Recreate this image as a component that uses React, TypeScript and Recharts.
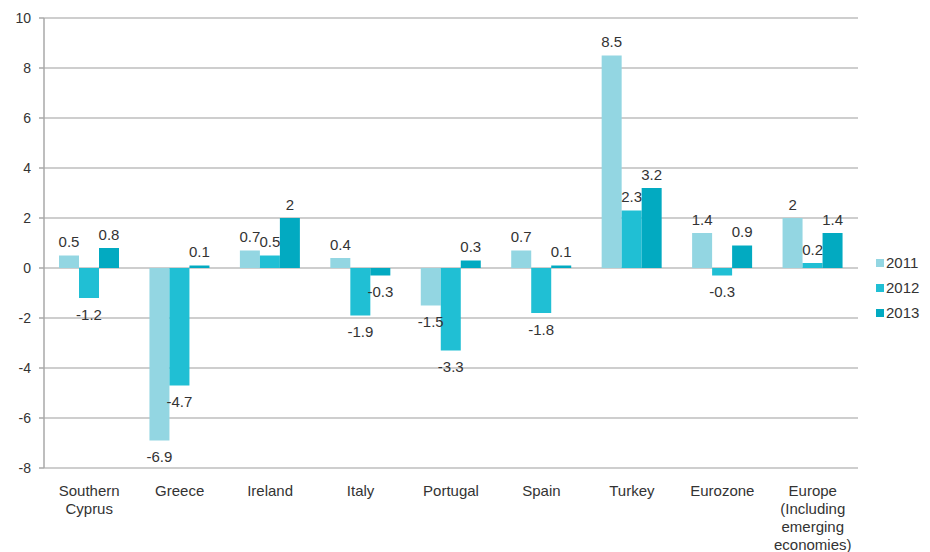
import { BarChart, Bar, XAxis, YAxis, CartesianGrid, Legend, LabelList } from 'recharts';

const categories = [
  'Southern Cyprus',
  'Greece',
  'Ireland',
  'Italy',
  'Portugal',
  'Spain',
  'Turkey',
  'Eurozone',
  'Europe (Including emerging economies)',
];

// how each category label wraps under the axis
const categoryLines: string[][] = [
  ['Southern', 'Cyprus'],
  ['Greece'],
  ['Ireland'],
  ['Italy'],
  ['Portugal'],
  ['Spain'],
  ['Turkey'],
  ['Eurozone'],
  ['Europe', '(Including', 'emerging', 'economies)'],
];

const values2011 = [0.5, -6.9, 0.7, 0.4, -1.5, 0.7, 8.5, 1.4, 2];
const values2012 = [-1.2, -4.7, 0.5, -1.9, -3.3, -1.8, 2.3, -0.3, 0.2];
const values2013 = [0.8, 0.1, 2, -0.3, 0.3, 0.1, 3.2, 0.9, 1.4];

const yTicks = [-8, -6, -4, -2, 0, 2, 4, 6, 8, 10];

const series = [
  { key: 'y2011', name: '2011', color: '#93D6E2' },
  { key: 'y2012', name: '2012', color: '#20BFD4' },
  { key: 'y2013', name: '2013', color: '#02AAC1' },
];

const data = categories.map((name, i) => ({
  name,
  y2011: values2011[i],
  y2012: values2012[i],
  y2013: values2013[i],
}));

const FONT = '"Liberation Sans", Arial, sans-serif';

function ValueLabel(props: any) {
  const { x, y, width, height, value } = props;
  const top = Math.min(y, y + height);
  const bottom = Math.max(y, y + height);
  const cx = x + width / 2;
  const ty = value >= 0 ? top - 14 : bottom + 16;
  return (
    <text x={cx} y={ty} textAnchor="middle" dominantBaseline="central" fill="#333" fontSize={15} fontFamily={FONT}>
      {value}
    </text>
  );
}

function CategoryTick(props: any) {
  const { x, y, payload } = props;
  const lines = categoryLines[payload.index] ?? [payload.value];
  return (
    <g>
      {lines.map((line, i) => (
        <text
          key={i}
          x={x}
          y={y + 14 + i * 18}
          textAnchor="middle"
          dominantBaseline="central"
          fill="#333"
          fontSize={15}
          fontFamily={FONT}
        >
          {line}
        </text>
      ))}
    </g>
  );
}

function renderLegend() {
  return (
    <div style={{ fontFamily: FONT, fontSize: 15, color: '#333' }}>
      {series.map((s) => (
        <div key={s.key} style={{ display: 'flex', alignItems: 'center', height: 25 }}>
          <span style={{ width: 8, height: 8, background: s.color, marginRight: 2, display: 'inline-block' }} />
          <span>{s.name}</span>
        </div>
      ))}
    </div>
  );
}

export default function App() {
  return (
    <div style={{ position: 'absolute', left: 0, top: 0, width: 930, height: 552, background: '#fff' }}>
      <BarChart
        width={930}
        height={552}
        data={data}
        margin={{ top: 18, right: 72, left: 0, bottom: 0 }}
        barCategoryGap={15}
        barGap={0}
      >
        <CartesianGrid vertical={false} stroke="#BEBEBE" strokeWidth={1.5} />
        <XAxis
          dataKey="name"
          axisLine={false}
          tickLine={false}
          interval={0}
          height={84}
          tick={<CategoryTick />}
        />
        <YAxis
          domain={[-8, 10]}
          ticks={yTicks}
          width={44}
          axisLine={{ stroke: '#A8A8A8', strokeWidth: 1.5 }}
          tickLine={{ stroke: '#A8A8A8', strokeWidth: 1.5 }}
          tickSize={5}
          tickMargin={8}
          tick={{ fill: '#333', fontSize: 14, fontFamily: FONT }}
        />
        <Legend
          layout="vertical"
          align="center"
          verticalAlign="middle"
          content={renderLegend}
          wrapperStyle={{ left: 876, top: 250, width: 54 }}
        />
        {series.map((s) => (
          <Bar key={s.key} dataKey={s.key} name={s.name} fill={s.color} isAnimationActive={false}>
            <LabelList dataKey={s.key} content={<ValueLabel />} />
          </Bar>
        ))}
      </BarChart>
    </div>
  );
}
